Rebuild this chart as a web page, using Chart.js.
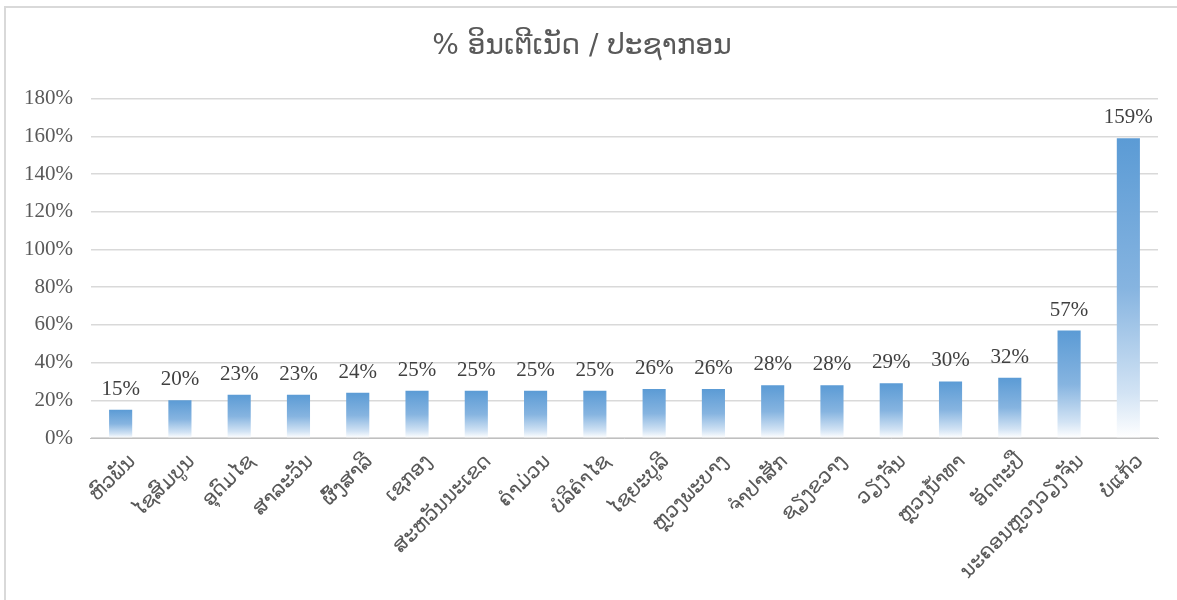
<!DOCTYPE html>
<html>
<head>
<meta charset="utf-8">
<script src="https://cdn.jsdelivr.net/npm/chart.js@4/dist/chart.umd.min.js"></script>
<style>
    html, body { margin: 0; padding: 0; background: #fff; }
    #wrap { position: relative; width: 1177px; height: 600px; overflow: hidden; }
    #frame { position: absolute; left: 4px; top: 6px; width: 1200px; height: 700px;
             border-left: 2px solid #d9d9d9; border-top: 2px solid #d9d9d9; pointer-events: none; }
</style>
</head>
<body>
<div id="wrap">
    <canvas id="chart" width="1177" height="600"></canvas>
    <div id="frame"></div>
</div>
<script>
// Datos del gráfico
const chartTitle = "% ອິນເຕີເນັດ / ປະຊາກອນ";
const provinces = [
    "ຫົວພັນ", "ໄຊສົມບູນ", "ອຸດົມໄຊ", "ສາລະວັນ", "ຜົ້ງສາລີ", "ເຊກອງ",
    "ສະຫວັນນະເຂດ", "ຄຳມ່ວນ", "ບໍລິຄຳໄຊ", "ໄຊຍະບູລີ", "ຫຼວງພະບາງ", "ຈຳປາສັກ",
    "ຊຽງຂວາງ", "ວຽງຈັນ", "ຫຼວງນ້ຳທາ", "ອັດຕະປື", "ນະຄອນຫຼວງວຽງຈັນ", "ບໍ່ແກ້ວ"
];
const internetShare = [15, 20, 23, 23, 24, 25, 25, 25, 25, 26, 26, 28, 28, 29, 30, 32, 57, 159];
const yTicks = [0, 20, 40, 60, 80, 100, 120, 140, 160, 180];

const laoFont = "'DejaVu Sans', 'Noto Sans', sans-serif";
const serifFont = "'Liberation Serif', 'Times New Roman', serif";

// Degradado por barra (azul arriba, blanco abajo)
function barGradient(context) {
    const chart = context.chart;
    const yScale = chart.scales.y;
    if (!yScale || !chart.chartArea) return "#5B9BD5";
    const v = context.raw;
    const top = yScale.getPixelForValue(v);
    const base = yScale.getPixelForValue(0);
    const g = chart.ctx.createLinearGradient(0, top, 0, base);
    g.addColorStop(0, "#5B9BD5");
    g.addColorStop(0.5, "#86B4E0");
    g.addColorStop(0.85, "#D2E3F4");
    g.addColorStop(1, "#FFFFFF");
    return g;
}

// Etiquetas de valor sobre cada barra
const valueLabels = {
    id: "valueLabels",
    afterDatasetsDraw(chart) {
        const ctx = chart.ctx;
        const meta = chart.getDatasetMeta(0);
        ctx.save();
        ctx.font = "21px " + serifFont;
        ctx.fillStyle = "#404040";
        ctx.textAlign = "center";
        ctx.textBaseline = "bottom";
        meta.data.forEach((bar, i) => {
            ctx.fillText(internetShare[i] + "%", bar.x, bar.y - 10);
        });
        ctx.restore();
    }
};

new Chart(document.getElementById("chart").getContext("2d"), {
    type: "bar",
    data: {
        labels: provinces,
        datasets: [{
            data: internetShare,
            backgroundColor: barGradient,
            borderWidth: 0,
            barPercentage: 0.39,
            categoryPercentage: 1
        }]
    },
    options: {
        responsive: false,
        animation: false,
        layout: { padding: { left: 6, right: 19, top: 8, bottom: 0 } },
        plugins: {
            legend: { display: false },
            tooltip: { enabled: false },
            title: {
                display: true,
                text: chartTitle,
                color: "#595959",
                font: { family: laoFont, size: 28, weight: "normal" },
                padding: { top: 22, bottom: 35 }
            }
        },
        scales: {
            x: {
                grid: { display: false },
                border: { color: "#bfbfbf", width: 1 },
                afterFit: axis => { axis.height = 162; },
                ticks: {
                    color: "#595959",
                    font: { family: laoFont, size: 20 },
                    maxRotation: 45,
                    minRotation: 45,
                    autoSkip: false,
                    labelOffset: 12,
                    padding: 4
                }
            },
            y: {
                min: 0,
                max: 180,
                afterBuildTicks: axis => { axis.ticks = yTicks.map(v => ({ value: v })); },
                grid: { color: "#d9d9d9", lineWidth: 1.5, drawTicks: false },
                border: { display: false },
                ticks: {
                    color: "#595959",
                    font: { family: serifFont, size: 21 },
                    padding: 18,
                    callback: v => v + "%"
                }
            }
        }
    },
    plugins: [valueLabels]
});
</script>
</body>
</html>
